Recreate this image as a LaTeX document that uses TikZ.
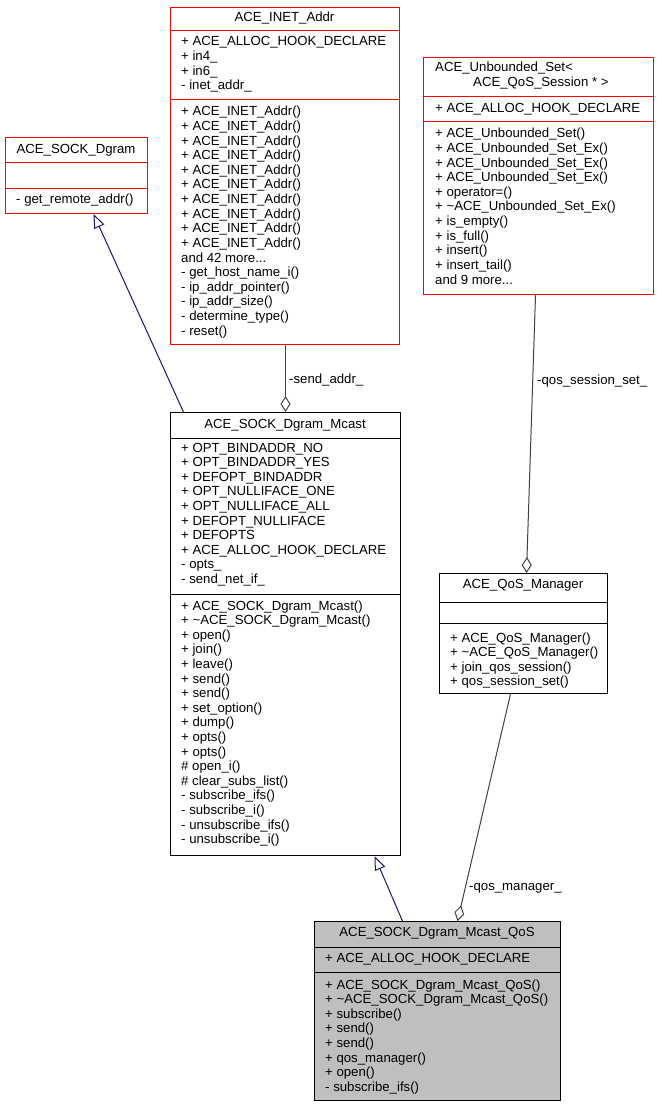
\documentclass[tikz,border=0pt]{standalone}
\usepackage{fontspec}
\setmainfont{Liberation Sans}
\usetikzlibrary{arrows.meta}
\definecolor{boxred}{HTML}{FF0000}
\definecolor{navyedge}{HTML}{191970}
\definecolor{grayedge}{HTML}{404040}
\definecolor{qosfill}{HTML}{BFBFBF}
\newcommand\moredots{.\kern0pt.\kern0pt.}
\newcommand\classlines[4]{%
  \foreach \t [count=\i] in {#4} {\node[txt] (#1-\i) at ({#2},{#3+(\i-1)*14.6}) {\t};}}
\begin{document}
\begin{tikzpicture}[x=1pt,y=-1pt,
  cbox/.style={line width=1pt, inner sep=0pt, anchor=north west, fill=white},
  redbox/.style={cbox, draw=boxred},
  blkbox/.style={cbox, draw=black},
  sepred/.style={draw=boxred, line width=1pt},
  sepblk/.style={draw=black, line width=1pt},
  txt/.style={anchor=base west, inner sep=0pt, font=\fontsize{13.2}{14.6}\selectfont},
  ttl/.style={anchor=base, inner sep=0pt, font=\fontsize{13.2}{14.6}\selectfont},
  inherit/.style={draw=navyedge, line width=1pt, -{Triangle[length=14pt,width=11pt,fill=white]}},
  comp/.style={draw=grayedge, line width=1pt, -{Diamond[length=16pt,width=10pt,fill=white]}},
  elabel/.style={anchor=base west, inner sep=0pt, font=\fontsize{13.2}{14.6}\selectfont}]
\path[use as bounding box] (0,0) rectangle (659,1107);

% ACE_SOCK_Dgram
\node[redbox, minimum width=142pt, minimum height=76pt] (dgram) at (5,137) {};
\draw[sepred] (5,163) -- (147,163);
\draw[sepred] (5,189) -- (147,189);
\node[ttl] (dgram-t) at (76,154) {ACE\_SOCK\_Dgram};
\classlines{dgram-m}{16}{204}{- get\_remote\_addr()}

% ACE_INET_Addr
\node[redbox, minimum width=229pt, minimum height=337pt] (inet) at (170,7) {};
\draw[sepred] (170,31) -- (399,31);
\draw[sepred] (170,100) -- (399,100);
\node[ttl] (inet-t) at (284.5,22) {ACE\_INET\_Addr};
\classlines{inet-a}{181}{46}{+ ACE\_ALLOC\_HOOK\_DECLARE,+ in4\_,+ in6\_,- inet\_addr\_}
\classlines{inet-m}{181}{116}{+ ACE\_INET\_Addr(),+ ACE\_INET\_Addr(),+ ACE\_INET\_Addr(),+ ACE\_INET\_Addr(),+ ACE\_INET\_Addr(),+ ACE\_INET\_Addr(),+ ACE\_INET\_Addr(),+ ACE\_INET\_Addr(),+ ACE\_INET\_Addr(),+ ACE\_INET\_Addr(),and 42 more\moredots,- get\_host\_name\_i(),- ip\_addr\_pointer(),- ip\_addr\_size(),- determine\_type(),- reset()}

% ACE_Unbounded_Set
\node[redbox, minimum width=230pt, minimum height=237pt] (unb) at (423,57) {};
\draw[sepred] (423,97) -- (653,97);
\draw[sepred] (423,122) -- (653,122);
\node[txt] (unb-t1) at (435,71.5) {ACE\_Unbounded\_Set<};
\node[txt] (unb-t2) at (473,86.5) {ACE\_QoS\_Session * >};
\classlines{unb-a}{435}{113}{+ ACE\_ALLOC\_HOOK\_DECLARE}
\classlines{unb-m}{435}{138}{+ ACE\_Unbounded\_Set(),+ ACE\_Unbounded\_Set\_Ex(),+ ACE\_Unbounded\_Set\_Ex(),+ ACE\_Unbounded\_Set\_Ex(),+ operator=(),+ \textasciitilde{}ACE\_Unbounded\_Set\_Ex(),+ is\_empty(),+ is\_full(),+ insert(),+ insert\_tail(),and 9 more\moredots}

% ACE_SOCK_Dgram_Mcast
\node[blkbox, minimum width=230pt, minimum height=443pt] (mcast) at (170,412) {};
\draw[sepblk] (170,438) -- (400,438);
\draw[sepblk] (170,594) -- (400,594);
\node[ttl] (mcast-t) at (285,428) {ACE\_SOCK\_Dgram\_Mcast};
\classlines{mcast-a}{181}{452}{+ OPT\_BINDADDR\_NO,+ OPT\_BINDADDR\_YES,+ DEFOPT\_BINDADDR,+ OPT\_NULLIFACE\_ONE,+ OPT\_NULLIFACE\_ALL,+ DEFOPT\_NULLIFACE,+ DEFOPTS,+ ACE\_ALLOC\_HOOK\_DECLARE,- opts\_,- send\_net\_if\_}
\classlines{mcast-m}{181}{610}{+ ACE\_SOCK\_Dgram\_Mcast(),+ \textasciitilde{}ACE\_SOCK\_Dgram\_Mcast(),+ open(),+ join(),+ leave(),+ send(),+ send(),+ set\_option(),+ dump(),+ opts(),+ opts(),\# open\_i(),\# clear\_subs\_list(),- subscribe\_ifs(),- subscribe\_i(),- unsubscribe\_ifs(),- unsubscribe\_i()}

% ACE_QoS_Manager
\node[blkbox, minimum width=168pt, minimum height=120pt] (mgr) at (439,573) {};
\draw[sepblk] (439,602) -- (607,602);
\draw[sepblk] (439,623) -- (607,623);
\node[ttl] (mgr-t) at (523,588) {ACE\_QoS\_Manager};
\classlines{mgr-m}{450}{642}{+ ACE\_QoS\_Manager(),+ \textasciitilde{}ACE\_QoS\_Manager(),+ join\_qos\_session(),+ qos\_session\_set()}

% ACE_SOCK_Dgram_Mcast_QoS
\node[blkbox, fill=qosfill, minimum width=246pt, minimum height=179pt] (qos) at (314,921) {};
\draw[sepblk] (314,947) -- (560,947);
\draw[sepblk] (314,972) -- (560,972);
\node[ttl] (qos-t) at (437,936.7) {ACE\_SOCK\_Dgram\_Mcast\_QoS};
\classlines{qos-a}{325}{962}{+ ACE\_ALLOC\_HOOK\_DECLARE}
\classlines{qos-m}{325}{989}{+ ACE\_SOCK\_Dgram\_Mcast\_QoS(),+ \textasciitilde{}ACE\_SOCK\_Dgram\_Mcast\_QoS(),+ subscribe(),+ send(),+ send(),+ qos\_manager(),+ open(),- subscribe\_ifs()}

% connectors
\draw[inherit] ([xshift=-102pt]mcast.north) -- ([xshift=17pt]dgram.south);
\draw[inherit] ([xshift=-35pt]qos.north) -- ([xshift=89pt]mcast.south);
\draw[comp] ([xshift=0.5pt]inet.south) -- (mcast.north);
\draw[comp] ([xshift=-3pt]unb.south) -- ([xshift=3pt]mgr.north);
\draw[comp] ([xshift=-13pt]mgr.south) -- ([xshift=20pt]qos.north);
\node[elabel] (lbl-send) at (289,383) {-send\_addr\_};
\node[elabel] (lbl-set) at (537,384) {-qos\_session\_set\_};
\node[elabel] (lbl-mgr) at (469,890) {-qos\_manager\_};
\end{tikzpicture}
\end{document}
